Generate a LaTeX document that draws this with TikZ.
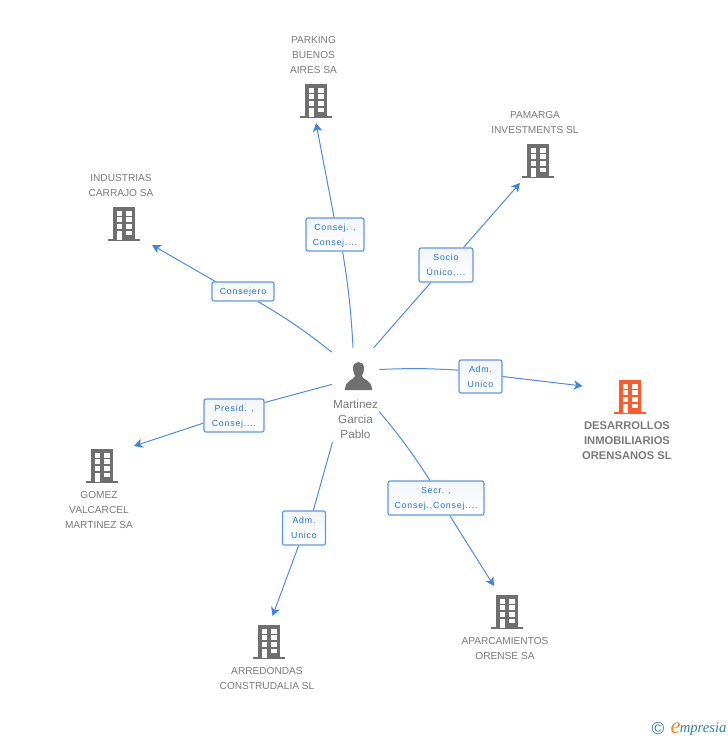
\documentclass[tikz,border=0pt]{standalone}
\usepackage{fontspec}
\setmainfont{Liberation Sans}
\newfontfamily\tagfont[LetterSpace=9]{Liberation Sans}
\newfontfamily\markfont{Liberation Serif}
\usetikzlibrary{arrows,arrows.meta,backgrounds,positioning}
\definecolor{linkblue}{HTML}{4A8CE6}
\definecolor{tipblue}{HTML}{3F84E5}
\definecolor{tagblue}{HTML}{2272DC}
\definecolor{tagtop}{HTML}{F3F5F8}
\definecolor{textgrey}{HTML}{7A7A7A}
\definecolor{icongrey}{HTML}{6F6F6F}
\definecolor{iconorange}{HTML}{FF5A2C}
\definecolor{markteal}{HTML}{2F7F9F}
\definecolor{markorange}{HTML}{F08A24}
\tikzset{
	link/.style={draw=linkblue,line width=0.75pt},
	arrowlink/.style={link,-{Stealth[length=6.5pt,width=7pt,inset=1.8pt,color=tipblue]}},
	tagbox/.style={draw=linkblue!90,line width=0.9pt,top color=tagtop,bottom color=white,rounded corners=1.5pt,inner sep=0pt,align=center,text=tagblue,text depth=0pt,font={\tagfont\fontsize{6.6}{11.25}\selectfont}},
	companyname/.style={align=center,inner sep=0pt,text=textgrey,font={\fontsize{7.6}{11.25}\selectfont}},
	spot/.style={inner sep=0pt,minimum size=2pt},
	pics/buildingicon/.style={code={
		\fill[#1] (-11,-17) rectangle (11,16);
		\fill[#1] (-16,14.5) rectangle (16,17);
		\foreach \wx in {-7,2.3}{
			\foreach \wy in {-12.7,-6.7,0.3}{
				\fill[white] (\wx,\wy) rectangle ++(5.3,4.3);
			}
		}
		\fill[white] (-7,6.7) rectangle (-1.7,16);
		\fill[white] (2.3,6.7) rectangle (7.7,11.3);
	}},
	pics/personicon/.style={code={
		\fill[icongrey] (-5.5,-8) .. controls (-5.5,-16) and (5.5,-16) .. (5.5,-8)
			.. controls (5.5,-4) and (4,-2) .. (3.5,0)
			.. controls (3.5,4) and (13.5,3) .. (13.5,14)
			-- (-13.5,14)
			.. controls (-13.5,3) and (-3.5,4) .. (-3.5,0)
			.. controls (-4,-2) and (-5.5,-4) .. (-5.5,-8) -- cycle;
	}}
}
\begin{document}
\begin{tikzpicture}[x=0.75pt,y=-0.75pt]
	\useasboundingbox (0,0) rectangle (728,740);
	% person
	\node[spot,minimum width=35.25pt,minimum height=70.5pt] (person) at (355.5,395) {};
	\pic at (358.5,376) {personicon};
	\node[companyname,font={\fontsize{8.8}{11.25}\selectfont}] (personname) at (355.5,419.5) {Martinez\\Garcia\\Pablo};
	% companies
	\node[spot] (parking) at (316,101) {};
	\pic at (parking) {buildingicon=icongrey};
	\node[companyname] (parkingname) at (313.5,55.5) {PARKING\\BUENOS\\AIRES SA};
	\node[spot] (pamarga) at (538,161) {};
	\pic at (pamarga) {buildingicon=icongrey};
	\node[companyname] (pamarganame) at (535,123) {PAMARGA\\INVESTMENTS SL};
	\node[spot] (industrias) at (124,224) {};
	\pic at (industrias) {buildingicon=icongrey};
	\node[companyname] (industriasname) at (121,186) {INDUSTRIAS\\CARRAJO SA};
	\node[spot] (desarrollos) at (630,397) {};
	\pic at (desarrollos) {buildingicon=iconorange};
	\node[companyname,font={\fontsize{8.4}{11.25}\selectfont\bfseries}] (desarrollosname) at (627,441) {DESARROLLOS\\INMOBILIARIOS\\ORENSANOS SL};
	\node[spot] (gomez) at (102,466) {};
	\pic at (gomez) {buildingicon=icongrey};
	\node[companyname] (gomezname) at (99,510.5) {GOMEZ\\VALCARCEL\\MARTINEZ SA};
	\node[spot] (arredondas) at (269,642) {};
	\pic at (arredondas) {buildingicon=icongrey};
	\node[companyname] (arredondasname) at (267,679) {ARREDONDAS\\CONSTRUDALIA SL};
	\node[spot] (aparcamientos) at (507,612) {};
	\pic at (aparcamientos) {buildingicon=icongrey};
	\node[companyname] (aparcamientosname) at (505,649) {APARCAMIENTOS\\ORENSE SA};
	% arrow ends
	\coordinate (parkingtip) at (316,123);
	\coordinate (pamargatip) at (520,183);
	\coordinate (industriastip) at (152,245);
	\coordinate (desarrollostip) at (582.5,386);
	\coordinate (gomeztip) at (134,446);
	\coordinate (arredondastip) at (272.5,616);
	\coordinate (aparcamientostip) at (494,586);
	% tags
	\node[tagbox,minimum width=43.5pt,minimum height=24.75pt] (parkingtag) at (335,234.5) {Consej. ,\\Consej....};
	\node[tagbox,minimum width=40.5pt,minimum height=25.5pt] (pamargatag) at (446,265) {Socio\\Único,...};
	\node[tagbox,minimum width=46.5pt,minimum height=14.25pt] (industriastag) at (243,291.5) {Consejero};
	\node[tagbox,minimum width=32.25pt,minimum height=24.75pt] (desarrollostag) at (480.5,376.5) {Adm.\\Unico};
	\node[tagbox,minimum width=45pt,minimum height=24.75pt] (gomeztag) at (234,415.5) {Presid. ,\\Consej....};
	\node[tagbox,minimum width=32.25pt,minimum height=25.5pt] (arredondastag) at (304,528) {Adm.\\Unico};
	\node[tagbox,minimum width=72pt,minimum height=25.5pt] (aparcamientostag) at (436,498) {Secr. ,\\Consej.,Consej....};
	% links
	\begin{pgfonlayer}{background}
		\draw[link] (person.93.9) to[bend right=3] (parkingtag.-66.8);
		\draw[arrowlink] (parkingtag.93.3) -- (parkingtip);
		\draw[link] (person.69.9) -- (pamargatag.229.2);
		\draw[arrowlink] (pamargatag.45.5) -- (pamargatip);
		\draw[link] (person.119.4) to[bend right=4] (industriastag.-34.7);
		\draw[arrowlink] (industriastag.160.1) -- (industriastip);
		\draw[link] (person.47.9) to[bend left=3] (desarrollostag.164.9);
		\draw[arrowlink] (desarrollostag.-0.5) -- (desarrollostip);
		\draw[link] (person.156.9) -- (gomeztag.23.1);
		\draw[arrowlink] (gomeztag.194.6) -- (gomeztip);
		\draw[link] (person.244.7) -- (arredondastag.62.9);
		\draw[arrowlink] (arredondastag.253.6) -- (arredondastip);
		\draw[link] (person.-35.9) to[bend left=3.5] (aparcamientostag.109.4);
		\draw[arrowlink] (aparcamientostag.-52.6) -- (aparcamientostip);
	\end{pgfonlayer}
	% watermark
	\node[inner sep=0pt,text=markteal,font=\fontsize{13}{13}\selectfont] (markcopy) at (658,729) {\textcopyright};
	\node[inner sep=0pt,anchor=base west,text=markteal,font={\markfont\itshape\fontsize{11}{11}\selectfont}] (markname) at (679.5,732) {mpresia};
	\node[inner sep=0pt,anchor=base east,text=markorange,font={\markfont\itshape\fontsize{17}{17}\selectfont}] (markletter) at (681,733) {e};
\end{tikzpicture}
\end{document}
